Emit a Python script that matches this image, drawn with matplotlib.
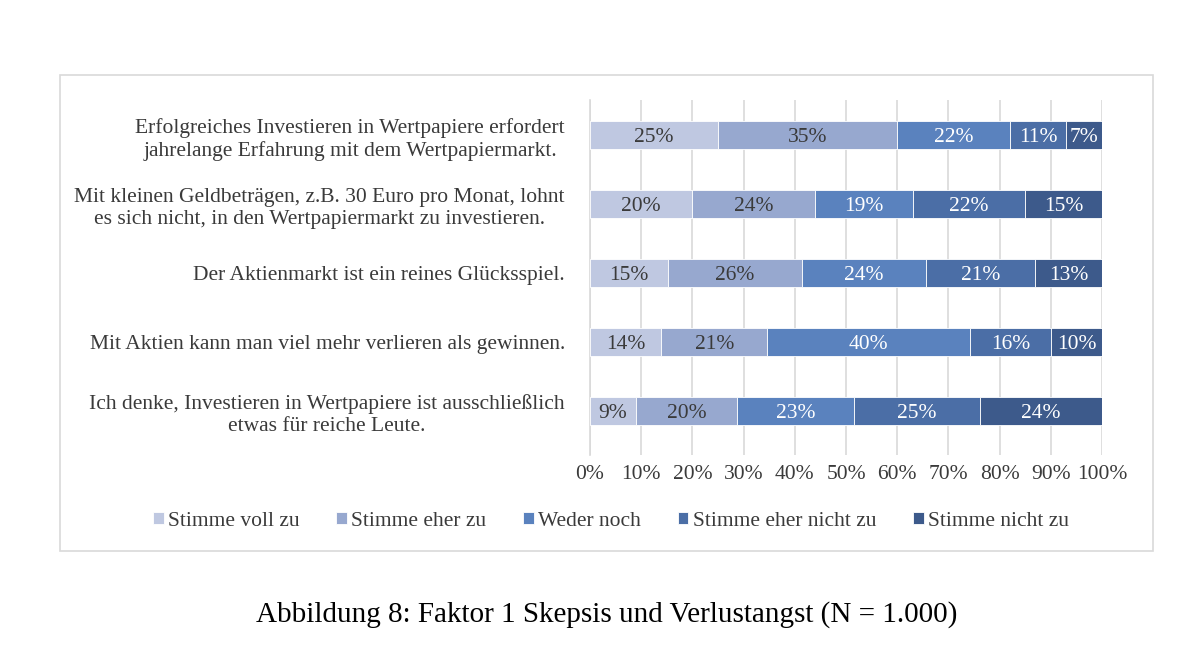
import matplotlib
matplotlib.use("Agg")
import matplotlib.pyplot as plt
from matplotlib.patches import Rectangle
import numpy as np

plt.rcParams['font.family'] = ['Liberation Serif', 'DejaVu Serif']

categories = [
    "Erfolgreiches Investieren in Wertpapiere erfordert\njahrelange Erfahrung mit dem Wertpapiermarkt.",
    "Mit kleinen Geldbeträgen, z.B. 30 Euro pro Monat, lohnt\nes sich nicht, in den Wertpapiermarkt zu investieren.",
    "Der Aktienmarkt ist ein reines Glücksspiel.",
    "Mit Aktien kann man viel mehr verlieren als gewinnen.",
    "Ich denke, Investieren in Wertpapiere ist ausschließlich\netwas für reiche Leute.",
]
series_names = ["Stimme voll zu", "Stimme eher zu", "Weder noch",
                "Stimme eher nicht zu", "Stimme nicht zu"]
stimme_voll_zu = [25, 20, 15, 14, 9]
stimme_eher_zu = [35, 24, 26, 21, 20]
weder_noch = [22, 19, 24, 40, 23]
stimme_eher_nicht_zu = [11, 22, 21, 16, 25]
stimme_nicht_zu = [7, 15, 13, 10, 24]
series = [stimme_voll_zu, stimme_eher_zu, weder_noch, stimme_eher_nicht_zu, stimme_nicht_zu]
xticks = [0, 10, 20, 30, 40, 50, 60, 70, 80, 90, 100]

colors = ["#BFC8E1", "#97A8CF", "#5A82BE", "#4B6EA6", "#3D5A8B"]
text_colors = ["#3A3A3A", "#3A3A3A", "white", "white", "white"]
txt = "#3A3A3A"
fs = 15.5

# 100% stacked: normalise each row to its total
data = np.array(series, dtype=float)
totals = data.sum(axis=0)
shares = data / totals * 100

fig = plt.figure(figsize=(12, 6.53), dpi=100)
fig.patches.append(Rectangle((60/1200, 1-551/653), 1093/1200, 476/653,
                             transform=fig.transFigure, fill=False,
                             edgecolor="#D9D9D9", linewidth=1.2))

ax = fig.add_axes([590/1200, 1-455/653, 512/1200, 355/653])
n = len(categories)
ypos = np.arange(n)[::-1]
left = np.zeros(n)
for raw, vals, col, tc, name in zip(data, shares, colors, text_colors, series_names):
    bars = ax.barh(ypos, vals, left=left, height=0.41, color=col, label=name,
                   edgecolor="white", linewidth=0.6, zorder=3)
    for b, v in zip(bars, raw):
        ax.text(b.get_x() + b.get_width()/2, b.get_y() + b.get_height()/2,
                f"{int(v)}%", ha="center", va="center_baseline", color=tc,
                fontsize=fs, zorder=4)
    left = left + vals

ax.set_xlim(0, 100)
ax.set_ylim(-0.64, 4.51)
ax.set_xticks(xticks)
ax.set_xticklabels([f"{t}%" for t in xticks], fontsize=fs, color=txt)
ax.set_yticks(ypos)
ax.set_yticklabels(categories, fontsize=fs, color=txt, multialignment="center",
                   linespacing=1.25)
ax.tick_params(axis="x", length=0, pad=7)
ax.tick_params(axis="y", length=0, pad=18)
ax.grid(axis="x", color="#D9D9D9", linewidth=1.2, zorder=0)
for s in ["top", "right", "bottom"]:
    ax.spines[s].set_visible(False)
ax.spines["left"].set_color("#D9D9D9")
ax.spines["left"].set_linewidth(1.2)

handles, labels = ax.get_legend_handles_labels()
fig.legend(handles, labels, loc="center", bbox_to_anchor=(611/1200, 1-521/653),
           ncol=5, frameon=False, fontsize=fs, handlelength=0.5, handleheight=0.5,
           handletextpad=0.2, columnspacing=1.7, labelcolor=txt)

fig.text(607/1200, 1-615/653, "Abbildung 8: Faktor 1 Skepsis und Verlustangst (N = 1.000)",
         ha="center", va="center", fontsize=21, color="black")

fig.savefig("out.png", dpi=100, facecolor="white")
